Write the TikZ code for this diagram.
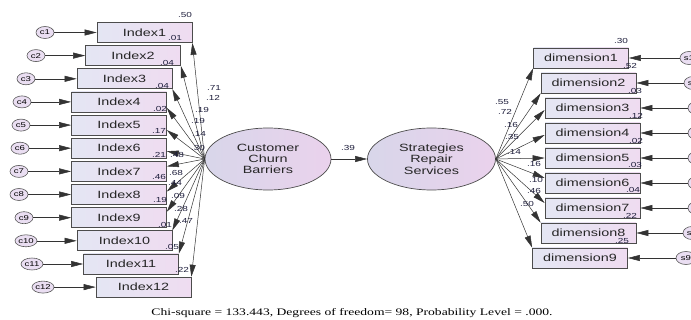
\documentclass[tikz,border=0pt]{standalone}
\usepackage{graphicx}
\usepackage{fontspec}
\setmainfont{Liberation Sans}
\newfontfamily\capfont{Liberation Serif}
\usetikzlibrary{arrows.meta,shapes.geometric,calc}
\newcommand{\sx}[1]{\scalebox{1.37}[1]{#1}}
\definecolor{boxL}{RGB}{228,230,243}
\definecolor{boxR}{RGB}{239,220,241}
\definecolor{latL}{RGB}{216,214,234}
\definecolor{latR}{RGB}{234,210,236}
\definecolor{errF}{RGB}{234,222,242}
\definecolor{numC}{RGB}{30,30,60}
\tikzset{
  box/.style={draw=black!70, line width=0.7pt, rectangle, minimum width=95pt, minimum height=20pt, inner sep=0pt, left color=boxL, right color=boxR, font=\fontsize{10.5}{12}\selectfont, text=black!85},
  err/.style={ellipse, draw=black!65, line width=0.6pt, fill=errF, minimum width=18pt, minimum height=12pt, inner sep=0pt, font=\fontsize{7}{8}\selectfont},
  lat/.style={ellipse, draw=black!70, line width=0.7pt, left color=latL, right color=latR, minimum width=126pt, minimum height=62pt, inner sep=0pt, align=center, font=\fontsize{10.5}{11.3}\selectfont, text=black!85},
  num/.style={font=\fontsize{7.3}{8}\selectfont, text=numC, inner sep=0pt},
  arr/.style={-{Triangle[length=12pt,width=6pt]}, line width=0.5pt, draw=black!80}
}
\begin{document}
\begin{tikzpicture}[x=1pt,y=-1pt]
\useasboundingbox (0,0) rectangle (691,320);
\clip (0,0) rectangle (691,320);
% left indicators
\foreach \i/\x/\y/\cx/\w in {1/144.5/32.5/45/18, 2/133/55.6/36/18, 3/124.5/78.8/26/18, 4/119/101.9/22/18, 5/119/125.1/21/18, 6/119/148.2/20/18, 7/119/171.4/19/18, 8/119/194.5/19/18, 9/119/217.7/24/18, 10/124.5/240.8/26/22, 11/131/264/32/22, 12/143.5/287.1/43/22}{
  \node[box] (I\i) at (\x,\y) {\sx{Index\i}};
  \node[err, minimum width=\w pt] (c\i) at (\cx,\y) {\sx{c\i}};
  \draw[arr] (c\i) -- (I\i);
}
% right indicators
\foreach \i/\x/\y/\sxp/\w in {1/581/58/689/18, 2/588.5/83/693/18, 3/592.5/108/697/18, 4/592.5/133/697/18, 5/592.5/158/697/18, 6/592.5/183/697/18, 7/592.5/208/697/18, 8/588.5/233/692/18, 9/580/258/686/20}{
  \node[box] (D\i) at (\x,\y) {\sx{dimension\i}};
  \node[err, minimum width=\w pt, minimum height=13pt] (s\i) at (\sxp,\y) {\sx{s\i}};
  \draw[arr] (s\i) -- (D\i);
}
% latent variables
\node[lat] (CCB) at (268,159) {\sx{Customer}\\\sx{Churn}\\\sx{Barriers}};
\node[lat, minimum width=128pt] (SRS) at (431.5,159) {\sx{Strategies}\\\sx{Repair}\\\sx{Services}};
\draw[arr] (CCB) -- (SRS);
\node[num] (w39) at (348,147.5) {\sx{.39}};
% loadings left
\draw[arr] (CCB.west) -- (I1.south east);
\draw[arr] (CCB.west) -- (I2.south east);
\draw[arr] (CCB.west) -- (I3.south east);
\draw[arr] (CCB.west) -- ($(I4.east)+(0,6)$);
\draw[arr] (CCB.west) -- ($(I5.east)+(0,5)$);
\draw[arr] (CCB.west) -- ($(I6.east)+(0,3)$);
\draw[arr] (CCB.west) -- ($(I7.east)+(0,-5)$);
\draw[arr] (CCB.west) -- ($(I8.east)+(0,-3)$);
\draw[arr] (CCB.west) -- ($(I9.east)+(0,-6)$);
\draw[arr] (CCB.west) -- (I10.north east);
\draw[arr] (CCB.west) -- (I11.north east);
\draw[arr] (CCB.west) -- (I12.north east);
% loadings right
\draw[arr] (SRS.east) -- (D1.south west);
\draw[arr] (SRS.east) -- (D2.south west);
\draw[arr] (SRS.east) -- ($(D3.west)+(0,2)$);
\draw[arr] (SRS.east) -- ($(D4.west)+(0,2)$);
\draw[arr] (SRS.east) -- (D5.west);
\draw[arr] (SRS.east) -- ($(D6.west)+(0,-5)$);
\draw[arr] (SRS.east) -- ($(D7.west)+(0,-5)$);
\draw[arr] (SRS.east) -- (D8.north west);
\draw[arr] (SRS.east) -- (D9.north west);
% left numbers
\node[num] (r1) at (185,15) {\sx{.50}};
\node[num] (r2) at (175,38) {\sx{.01}};
\node[num] (r3) at (167,62.5) {\sx{.04}};
\node[num] (r4) at (162,86) {\sx{.04}};
\node[num] (r5) at (160,109) {\sx{.02}};
\node[num] (r6) at (159,131) {\sx{.17}};
\node[num] (r7) at (159,154.5) {\sx{.21}};
\node[num] (r8) at (159,177) {\sx{.46}};
\node[num] (r9) at (160,200) {\sx{.19}};
\node[num] (r10) at (165,225) {\sx{.01}};
\node[num] (r11) at (172,247) {\sx{.05}};
\node[num] (r12) at (182,270) {\sx{.22}};
\node[num] (l1) at (214,88) {\sx{.71}};
\node[num] (l2) at (213,98) {\sx{.12}};
\node[num] (l3) at (202,110) {\sx{.19}};
\node[num] (l4) at (198,121) {\sx{.19}};
\node[num] (l5) at (199,134) {\sx{.14}};
\node[num] (l6) at (198,148) {\sx{.30}};
\node[num] (l7) at (177,155) {\sx{.48}};
\node[num] (l8) at (176,173) {\sx{.68}};
\node[num] (l9) at (175,183) {\sx{.44}};
\node[num] (l10) at (178,196) {\sx{.09}};
\node[num] (l11) at (181,209) {\sx{.28}};
\node[num] (l12) at (186,221) {\sx{.47}};
% right numbers
\node[num] (q1) at (621,41) {\sx{.30}};
\node[num] (q2) at (630,66) {\sx{.52}};
\node[num] (q3) at (635,91) {\sx{.03}};
\node[num] (q4) at (636,116) {\sx{.12}};
\node[num] (q5) at (636,141) {\sx{.02}};
\node[num] (q6) at (635,165) {\sx{.03}};
\node[num] (q7) at (633,190) {\sx{.04}};
\node[num] (q8) at (630,216) {\sx{.22}};
\node[num] (q9) at (622,241) {\sx{.25}};
\node[num] (m1) at (502,102) {\sx{.55}};
\node[num] (m2) at (505,112) {\sx{.72}};
\node[num] (m3) at (511,125) {\sx{.16}};
\node[num] (m4) at (512,137) {\sx{.35}};
\node[num] (m5) at (514,152) {\sx{.14}};
\node[num] (m6) at (534,164) {\sx{.16}};
\node[num] (m7) at (536,179.5) {\sx{.10}};
\node[num] (m8) at (534,190.5) {\sx{.46}};
\node[num] (m9) at (527,204) {\sx{.50}};
% caption
\node[font=\capfont\fontsize{10}{12}\selectfont, inner sep=0pt] (cap) at (352,313) {\scalebox{1.36}[1]{Chi-square = 133.443, Degrees of freedom= 98, Probability Level = .000.}};
\end{tikzpicture}
\end{document}
